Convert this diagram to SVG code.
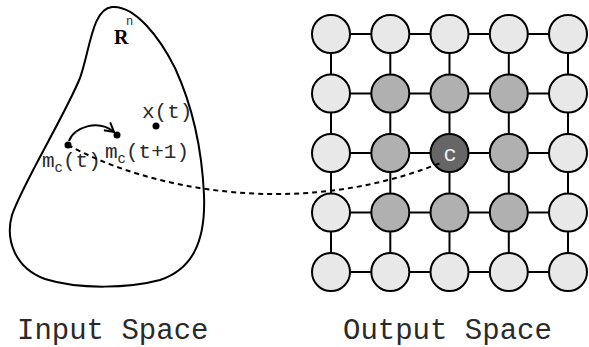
<svg xmlns="http://www.w3.org/2000/svg" width="589" height="347" viewBox="0 0 589 347">
  <style>
    .node circle { stroke: #000; stroke-width: 2; }
    .light circle { fill: #e8e8e8; }
    .mid circle { fill: #b0b0b0; }
    .dark circle { fill: #666; }
    .edge { stroke: #000; stroke-width: 2; fill: none; }
    .mono { font-family: "Liberation Mono", "Courier New", monospace; fill: #2a2a2a; }
    .dot { fill: #000; }
  </style>
  <defs>
    <marker id="openArrow" viewBox="0 0 12 12" refX="10" refY="6" markerWidth="12" markerHeight="12" markerUnits="userSpaceOnUse" orient="auto">
      <path d="M1,1 L10,6 L1,11" fill="none" stroke="#000" stroke-width="2"/>
    </marker>
  </defs>

  <!-- input space region -->
  <g id="input-region">
    <path d="M112,7 C135,5 160,38 175,68 C192,105 202,150 204,195 C206,245 190,270 160,280 C130,288 80,290 45,279 C15,268 5,240 12,215 C22,185 65,115 80,78 C90,50 92,9 112,7 Z" fill="none" stroke="#000" stroke-width="2"/>
    <text x="114" y="44" font-family="Liberation Serif, serif" font-size="20" font-weight="bold" fill="#000">R</text>
    <text class="mono" x="126" y="25" font-size="12">n</text>
  </g>

  <g id="point-x">
    <circle class="dot" cx="156" cy="126" r="3.5"/>
    <text class="mono" x="142" y="118" font-size="21">x(t)</text>
  </g>

  <g id="point-mc-t">
    <circle class="dot" cx="68" cy="145" r="3.5"/>
    <text class="mono" x="42" y="167" font-size="21">m<tspan font-size="14" dy="5">c</tspan><tspan dy="-5">(t)</tspan></text>
  </g>

  <g id="point-mc-t1">
    <circle class="dot" cx="117" cy="135" r="3.5"/>
    <text class="mono" x="105" y="158" font-size="21">m<tspan font-size="14" dy="5">c</tspan><tspan dy="-5">(t+1)</tspan></text>
  </g>

  <!-- output lattice -->
  <g id="lattice-edges">
    <path class="edge" d="M331,34 H568 M331,93.5 H568 M331,153 H568 M331,212.5 H568 M331,272 H568"/>
    <path class="edge" d="M331,34 V272 M390.3,34 V272 M449.5,34 V272 M508.8,34 V272 M568,34 V272"/>
  </g>

  <g id="node-r1c1" class="node light"><circle cx="331" cy="34" r="19"/></g>
  <g id="node-r1c2" class="node light"><circle cx="390.3" cy="34" r="19"/></g>
  <g id="node-r1c3" class="node light"><circle cx="449.5" cy="34" r="19"/></g>
  <g id="node-r1c4" class="node light"><circle cx="508.8" cy="34" r="19"/></g>
  <g id="node-r1c5" class="node light"><circle cx="568" cy="34" r="19"/></g>

  <g id="node-r2c1" class="node light"><circle cx="331" cy="93.5" r="19"/></g>
  <g id="node-r2c2" class="node mid"><circle cx="390.3" cy="93.5" r="19"/></g>
  <g id="node-r2c3" class="node mid"><circle cx="449.5" cy="93.5" r="19"/></g>
  <g id="node-r2c4" class="node mid"><circle cx="508.8" cy="93.5" r="19"/></g>
  <g id="node-r2c5" class="node light"><circle cx="568" cy="93.5" r="19"/></g>

  <g id="node-r3c1" class="node light"><circle cx="331" cy="153" r="19"/></g>
  <g id="node-r3c2" class="node mid"><circle cx="390.3" cy="153" r="19"/></g>
  <g id="node-c" class="node dark">
    <circle cx="449.5" cy="153" r="19"/>
    <text class="mono" x="450" y="161" font-size="22" text-anchor="middle" style="fill:#f0f0f0">c</text>
  </g>
  <g id="node-r3c4" class="node mid"><circle cx="508.8" cy="153" r="19"/></g>
  <g id="node-r3c5" class="node light"><circle cx="568" cy="153" r="19"/></g>

  <g id="node-r4c1" class="node light"><circle cx="331" cy="212.5" r="19"/></g>
  <g id="node-r4c2" class="node mid"><circle cx="390.3" cy="212.5" r="19"/></g>
  <g id="node-r4c3" class="node mid"><circle cx="449.5" cy="212.5" r="19"/></g>
  <g id="node-r4c4" class="node mid"><circle cx="508.8" cy="212.5" r="19"/></g>
  <g id="node-r4c5" class="node light"><circle cx="568" cy="212.5" r="19"/></g>

  <g id="node-r5c1" class="node light"><circle cx="331" cy="272" r="19"/></g>
  <g id="node-r5c2" class="node light"><circle cx="390.3" cy="272" r="19"/></g>
  <g id="node-r5c3" class="node light"><circle cx="449.5" cy="272" r="19"/></g>
  <g id="node-r5c4" class="node light"><circle cx="508.8" cy="272" r="19"/></g>
  <g id="node-r5c5" class="node light"><circle cx="568" cy="272" r="19"/></g>

  <!-- connectors -->
  <g id="connectors">
    <path d="M69,141 C74,127 98,119 114,132" fill="none" stroke="#000" stroke-width="2" marker-end="url(#openArrow)"/>
    <path d="M68,145 C150,190 300,220 443,162" fill="none" stroke="#000" stroke-width="2" stroke-dasharray="5,4"/>
  </g>

  <!-- captions -->
  <text class="mono" x="17" y="339" font-size="29">Input Space</text>
  <text class="mono" x="343" y="339" font-size="29">Output Space</text>
</svg>
